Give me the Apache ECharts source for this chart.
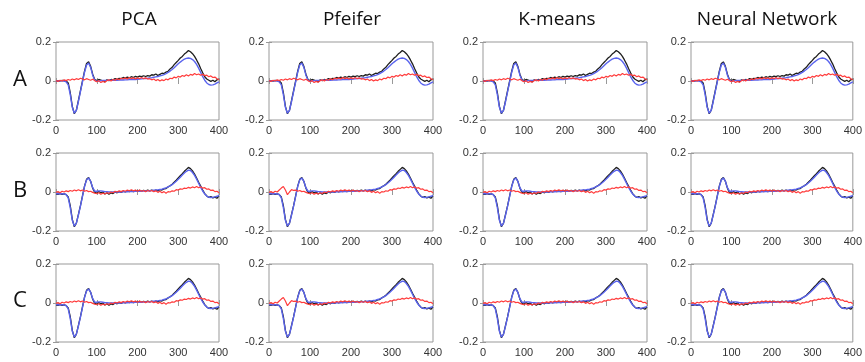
<!DOCTYPE html>
<html>
<head>
<meta charset="utf-8">
<script src="https://cdn.jsdelivr.net/npm/echarts@6/dist/echarts.min.js"></script>
<style>
  html, body { margin: 0; padding: 0; background: #fff; }
  #main { width: 865px; height: 362px; }
</style>
</head>
<body>
<div id="main"></div>
<script>
// column / row labels
var methods = ["PCA", "Pfeifer", "K-means", "Neural Network"];
var rowNames = ["A", "B", "C"];
var xTicks = [0, 100, 200, 300, 400];

// sample positions (step 5)
var xs = [];
for (var k = 0; k <= 400; k += 5) xs.push(k);

// row A curves
var blackA = [0.000,0.002,0.000,0.003,0.002,0.000,-0.010,-0.060,-0.130,-0.168,-0.150,-0.100,-0.050,0.000,0.050,0.090,0.098,0.075,0.035,0.008,
  0.002,0.008,0.005,0.000,-0.004,0.006,0.002,0.008,0.006,0.012,0.008,0.014,0.012,0.018,0.015,0.020,0.016,0.022,0.018,0.024,
  0.020,0.025,0.022,0.027,0.023,0.028,0.025,0.032,0.030,0.036,0.028,0.034,0.040,0.038,0.046,0.050,0.062,0.070,0.084,0.095,
  0.106,0.118,0.126,0.138,0.146,0.156,0.150,0.140,0.126,0.108,0.088,0.064,0.042,0.022,0.010,0.004,-0.002,0.004,-0.004,0.006,0.010];
var blueA = [0.000,0.000,0.001,0.001,0.000,-0.004,-0.020,-0.070,-0.135,-0.165,-0.150,-0.105,-0.055,-0.005,0.045,0.082,0.092,0.070,0.030,0.005,
  -0.002,0.000,0.002,0.003,0.003,0.003,0.003,0.004,0.004,0.004,0.004,0.005,0.005,0.005,0.006,0.006,0.007,0.007,0.008,0.008,
  0.009,0.010,0.011,0.012,0.013,0.014,0.016,0.017,0.019,0.021,0.023,0.026,0.029,0.033,0.038,0.044,0.051,0.059,0.068,0.078,
  0.088,0.097,0.105,0.112,0.116,0.118,0.116,0.110,0.100,0.085,0.066,0.044,0.022,0.004,-0.010,-0.018,-0.021,-0.020,-0.016,-0.010,-0.004];
var redA = [0.002,-0.002,0.004,0.000,0.006,0.002,0.008,0.004,0.010,0.006,0.012,0.008,0.014,0.010,0.006,0.012,0.008,0.004,0.009,0.002,
  -0.004,0.002,-0.008,-0.002,-0.006,0.002,0.006,0.000,0.008,0.004,0.012,0.006,0.014,0.010,0.016,0.010,0.018,0.012,0.016,0.010,
  0.016,0.012,0.018,0.012,0.016,0.010,0.012,0.006,0.010,0.002,0.008,0.000,0.006,0.002,0.010,0.006,0.014,0.012,0.020,0.016,
  0.024,0.020,0.028,0.024,0.032,0.026,0.034,0.030,0.038,0.032,0.036,0.030,0.034,0.028,0.030,0.022,0.026,0.018,0.020,0.012,0.006];

// rows B and C curves
var blackB = [-0.010,-0.012,-0.008,-0.012,-0.010,-0.014,-0.025,-0.070,-0.140,-0.178,-0.160,-0.115,-0.070,-0.020,0.030,0.065,0.074,0.055,0.020,-0.002,
  -0.006,0.002,-0.004,0.000,-0.010,-0.004,-0.012,-0.004,-0.008,0.000,-0.004,0.002,-0.002,0.004,0.000,0.006,0.002,0.006,0.002,0.008,
  0.004,0.008,0.004,0.009,0.005,0.010,0.006,0.010,0.004,0.010,0.006,0.012,0.010,0.016,0.018,0.026,0.032,0.040,0.050,0.060,
  0.072,0.084,0.094,0.106,0.116,0.126,0.120,0.108,0.092,0.072,0.050,0.030,0.010,-0.008,-0.020,-0.028,-0.024,-0.030,-0.026,-0.032,-0.020];
var blueB = [-0.008,-0.009,-0.009,-0.009,-0.010,-0.013,-0.030,-0.080,-0.145,-0.175,-0.160,-0.118,-0.072,-0.022,0.028,0.062,0.072,0.055,0.022,0.004,
  0.004,0.006,0.006,0.004,0.002,0.001,0.000,0.000,0.000,0.000,0.000,0.000,0.000,0.001,0.001,0.001,0.002,0.002,0.002,0.003,
  0.003,0.004,0.004,0.005,0.005,0.006,0.007,0.008,0.009,0.010,0.011,0.013,0.015,0.018,0.021,0.026,0.031,0.038,0.046,0.055,
  0.065,0.076,0.087,0.097,0.106,0.112,0.110,0.100,0.085,0.066,0.045,0.024,0.005,-0.010,-0.021,-0.027,-0.028,-0.027,-0.025,-0.022,-0.018];
var redB = [-0.002,0.002,-0.004,0.004,0.000,0.006,0.002,0.008,0.004,0.010,0.006,0.012,0.006,0.010,0.004,0.008,0.002,0.004,-0.002,-0.006,
  -0.008,-0.004,-0.012,-0.006,-0.010,-0.004,-0.008,0.000,-0.004,0.004,0.000,0.006,0.002,0.008,0.004,0.010,0.006,0.012,0.006,0.010,
  0.004,0.010,0.004,0.008,0.002,0.008,0.004,0.008,0.002,0.006,-0.002,0.004,-0.004,0.002,-0.006,0.002,0.000,0.006,0.004,0.012,
  0.010,0.016,0.014,0.020,0.018,0.024,0.020,0.026,0.022,0.028,0.022,0.026,0.020,0.022,0.014,0.016,0.008,0.010,0.002,0.004,-0.004];
// Pfeifer rows B and C: red has a wiggle near the trough
var redPf = [-0.002,0.002,-0.004,0.004,0.000,0.010,0.020,0.028,0.010,-0.014,0.000,0.012,0.008,0.010,0.004,0.008,0.002,0.004,-0.002,-0.006,
  -0.008,-0.004,-0.012,-0.006,-0.010,-0.004,-0.008,0.000,-0.004,0.004,0.000,0.006,0.002,0.008,0.004,0.010,0.006,0.012,0.006,0.010,
  0.004,0.010,0.004,0.008,0.002,0.008,0.004,0.008,0.002,0.006,-0.002,0.004,-0.004,0.002,-0.006,0.002,0.000,0.006,0.004,0.012,
  0.010,0.016,0.014,0.020,0.018,0.024,0.020,0.026,0.022,0.028,0.022,0.026,0.020,0.022,0.014,0.016,0.008,0.010,0.002,0.004,-0.004];

var colLeft = [56, 269, 483, 691];
var colWidth = [163, 164, 164, 162];
var rowTop = [42, 153, 264];
var rowHeight = 78;
var titleX = [139, 352, 557, 767];

function pairs(ys) {
  return xs.map(function (x, i) { return [x, ys[i]]; });
}

var chart = echarts.init(document.getElementById("main"));
var grids = [], xAxes = [], yAxes = [], series = [];
var axisColor = "#999";
var labelStyle = { color: "#333", fontSize: 11, fontFamily: "Liberation Sans" };

for (var r = 0; r < 3; r++) {
  for (var c = 0; c < 4; c++) {
    var g = grids.length;
    grids.push({ left: colLeft[c], top: rowTop[r], width: colWidth[c], height: rowHeight,
      show: true, borderColor: axisColor, borderWidth: 1, backgroundColor: "#fff" });
    xAxes.push({ gridIndex: g, type: "value", min: 0, max: 400, interval: 100, position: "bottom",
      axisLine: { show: false }, splitLine: { show: false },
      axisTick: { show: true, inside: true, length: 3, lineStyle: { color: axisColor } },
      axisLabel: Object.assign({ margin: 5 }, labelStyle) });
    xAxes.push({ gridIndex: g, type: "value", min: 0, max: 400, interval: 100, position: "top",
      axisLine: { show: false }, splitLine: { show: false }, axisLabel: { show: false },
      axisTick: { show: true, inside: true, length: 3, lineStyle: { color: axisColor } } });
    yAxes.push({ gridIndex: g, type: "value", min: -0.2, max: 0.2, interval: 0.2, position: "left",
      axisLine: { show: false }, splitLine: { show: false },
      axisTick: { show: true, inside: true, length: 3, lineStyle: { color: axisColor } },
      axisLabel: Object.assign({ margin: 5 }, labelStyle) });
    yAxes.push({ gridIndex: g, type: "value", min: -0.2, max: 0.2, interval: 0.2, position: "right",
      axisLine: { show: false }, splitLine: { show: false }, axisLabel: { show: false },
      axisTick: { show: true, inside: true, length: 3, lineStyle: { color: axisColor } } });

    var blk = r === 0 ? blackA : blackB;
    var blu = r === 0 ? blueA : blueB;
    var red = r === 0 ? redA : (c === 1 ? redPf : redB);
    var base = { type: "line", xAxisIndex: g * 2, yAxisIndex: g * 2, showSymbol: false, silent: true, animation: false };
    series.push(Object.assign({ data: pairs(blk), lineStyle: { color: "#1e1e1e", width: 1.3 }, z: 2 }, base));
    series.push(Object.assign({ data: pairs(blu), lineStyle: { color: "#5a64ee", width: 1.4 }, z: 3 }, base));
    series.push(Object.assign({ data: pairs(red), lineStyle: { color: "#ff3c3c", width: 1.2 }, z: 4 }, base));
  }
}

var texts = [];
methods.forEach(function (m, i) {
  texts.push({ type: "text", x: titleX[i], y: 20,
    style: { text: m, font: '19px "Open Sans"', fill: "#111", align: "center", verticalAlign: "middle" } });
});
var rowY = [80, 191, 301];
rowNames.forEach(function (n, i) {
  texts.push({ type: "text", x: 20, y: rowY[i],
    style: { text: n, font: '22px "Open Sans"', fill: "#111", align: "center", verticalAlign: "middle" } });
});

chart.setOption({
  animation: false,
  grid: grids,
  xAxis: xAxes,
  yAxis: yAxes,
  series: series,
  graphic: texts
});
</script>
</body>
</html>
